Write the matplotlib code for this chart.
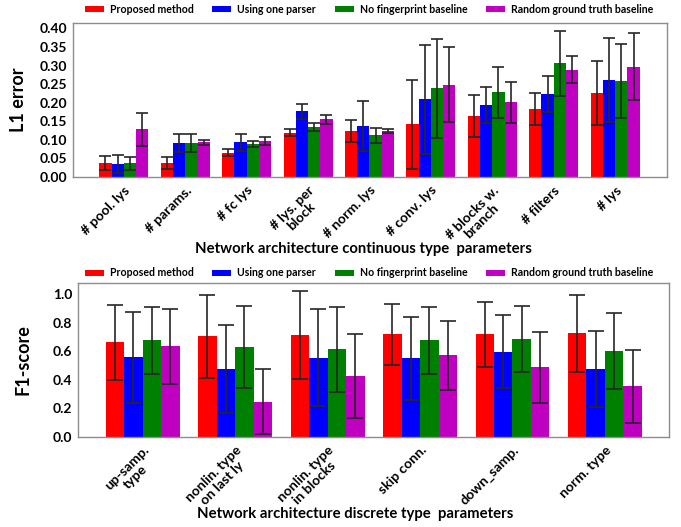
import matplotlib
matplotlib.use("Agg")
import matplotlib.pyplot as plt
from matplotlib.patches import Patch
import numpy as np

plt.rcParams['font.family'] = ['Lato', 'DejaVu Sans']
plt.rcParams['font.weight'] = 'bold'

methods = ["Proposed method", "Using one parser", "No fingerprint baseline", "Random ground truth baseline"]
colors = ["#FF0000", "#0000FF", "#008000", "#C000C0"]

cont_labels = ["# pool. lys", "# params.", "# fc lys", "# lys. per\nblock", "# norm. lys",
               "# conv. lys", "# blocks w.\nbranch", "# filters", "# lys"]
cont_proposed = [0.037, 0.037, 0.066, 0.119, 0.124, 0.142, 0.165, 0.183, 0.226]
cont_one_parser = [0.035, 0.092, 0.094, 0.177, 0.138, 0.209, 0.194, 0.223, 0.261]
cont_no_fp = [0.037, 0.092, 0.089, 0.135, 0.113, 0.239, 0.228, 0.306, 0.259]
cont_random = [0.128, 0.094, 0.096, 0.155, 0.124, 0.249, 0.201, 0.289, 0.297]
cont_proposed_err = [0.019, 0.016, 0.010, 0.009, 0.029, 0.120, 0.057, 0.042, 0.085]
cont_one_parser_err = [0.025, 0.025, 0.023, 0.020, 0.067, 0.147, 0.048, 0.049, 0.114]
cont_no_fp_err = [0.018, 0.025, 0.009, 0.011, 0.020, 0.133, 0.068, 0.088, 0.100]
cont_random_err = [0.045, 0.007, 0.011, 0.011, 0.006, 0.102, 0.056, 0.036, 0.090]

disc_labels = ["up-samp.\ntype", "nonlin. type\non last ly", "nonlin. type\nin blocks",
               "skip conn.", "down_samp.", "norm. type"]
disc_proposed = [0.665, 0.705, 0.714, 0.719, 0.719, 0.726]
disc_one_parser = [0.557, 0.478, 0.555, 0.550, 0.597, 0.473]
disc_no_fp = [0.677, 0.630, 0.616, 0.677, 0.689, 0.602]
disc_random = [0.637, 0.248, 0.424, 0.571, 0.487, 0.354]
disc_proposed_err = [0.263, 0.293, 0.311, 0.215, 0.226, 0.268]
disc_one_parser_err = [0.320, 0.308, 0.339, 0.290, 0.256, 0.266]
disc_no_fp_err = [0.234, 0.290, 0.298, 0.233, 0.232, 0.267]
disc_random_err = [0.263, 0.226, 0.294, 0.245, 0.250, 0.254]

fig = plt.figure(figsize=(6.81, 5.27), dpi=100)
ax1 = fig.add_axes([0.107, 0.664, 0.872, 0.292])
ax2 = fig.add_axes([0.1145, 0.171, 0.8675, 0.292])

def draw(ax, labels, vals, errs, capsize, ylim, yticks, yfmt, xlim, ylabel, xlabel):
    n = len(labels)
    x = np.arange(n)
    w = 0.2
    for k in range(4):
        ax.bar(x + (k - 1.5) * w, vals[k], w, color=colors[k], edgecolor='none',
               yerr=errs[k], capsize=capsize,
               error_kw=dict(ecolor='#262626', elinewidth=1.2, capthick=1.2), zorder=2)
    ax.set_xlim(*xlim)
    ax.set_ylim(*ylim)
    ax.set_yticks(yticks)
    ax.set_yticklabels([yfmt.format(t) for t in yticks], fontsize=10, fontweight='bold')
    ax.set_xticks(x)
    ax.set_xticklabels(labels, rotation=45, ha='right', rotation_mode='anchor',
                       multialignment='center', fontsize=10, fontweight='bold',
                       linespacing=1.05)
    ax.tick_params(axis='x', length=0, pad=5)
    ax.tick_params(axis='y', length=0, pad=4)
    for s in ax.spines.values():
        s.set_color('#8c8c8c')
        s.set_linewidth(1.0)
    ax.set_ylabel(ylabel, fontsize=13, fontweight='bold')
    ax.set_xlabel(xlabel, fontsize=10.7, fontweight='bold')
    ax.xaxis.label.set_va('center')

draw(ax1, cont_labels,
     [cont_proposed, cont_one_parser, cont_no_fp, cont_random],
     [cont_proposed_err, cont_one_parser_err, cont_no_fp_err, cont_random_err],
     4, (0, 0.414), np.arange(0, 0.401, 0.05), "{:.2f}", (-0.83, 8.84),
     "L1 error", "Network architecture continuous type  parameters")
ax1.xaxis.set_label_coords(0.49, -0.47)
ax1.yaxis.set_label_coords(-0.078, 0.5)

draw(ax2, disc_labels,
     [disc_proposed, disc_one_parser, disc_no_fp, disc_random],
     [disc_proposed_err, disc_one_parser_err, disc_no_fp_err, disc_random_err],
     6, (0, 1.079), np.arange(0, 1.01, 0.2), "{:.1f}", (-0.70, 5.69),
     "F1-score", "Network architecture discrete type  parameters")
ax2.xaxis.set_label_coords(0.47, -0.50)
ax2.yaxis.set_label_coords(-0.078, 0.5)

handles = [Patch(facecolor=c, edgecolor='none') for c in colors]
for yc in (0.982, 0.482):
    fig.legend(handles, methods, loc='center', bbox_to_anchor=(0.542, yc), ncol=4,
               frameon=False, prop=dict(family='Lato', weight='bold', size=7.6),
               handlelength=1.8, handleheight=0.55, handletextpad=0.55, columnspacing=1.8,
               borderpad=0, borderaxespad=0)

fig.savefig("out.png", dpi=100)
